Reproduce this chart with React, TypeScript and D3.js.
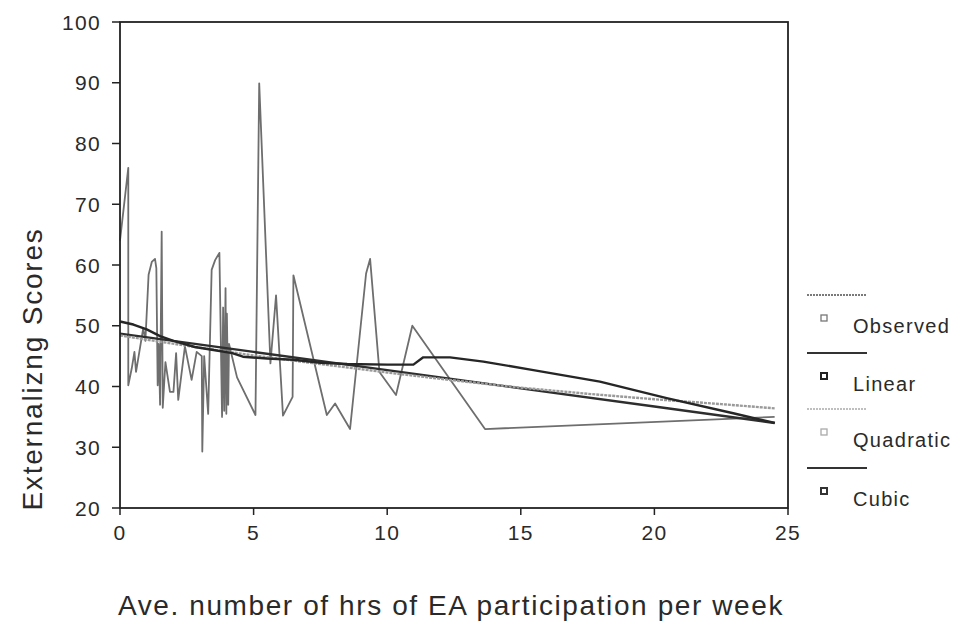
import React from "react";
import * as d3 from "d3";

const xTicks = [0, 5, 10, 15, 20, 25];
const yTicks = [20, 30, 40, 50, 60, 70, 80, 90, 100];

const observedX = [0.0, 0.31, 0.31, 0.44, 0.54, 0.6, 0.87, 0.95, 1.07, 1.19, 1.31, 1.36, 1.41, 1.45, 1.5, 1.56, 1.6, 1.7, 1.87, 2.0, 2.1, 2.18, 2.43, 2.68, 2.87, 3.06, 3.08, 3.15, 3.3, 3.43, 3.56, 3.72, 3.82, 3.86, 3.9, 3.95, 3.98, 4.0, 4.05, 4.08, 4.38, 5.07, 5.21, 5.63, 5.84, 6.1, 6.46, 6.49, 7.74, 8.05, 8.61, 9.21, 9.36, 9.71, 10.33, 10.94, 13.66, 24.5];
const observedY = [64.0, 76.0, 40.2, 43.0, 45.7, 42.4, 49.6, 47.5, 58.4, 60.5, 61.0, 59.5, 40.2, 47.0, 37.0, 65.5, 36.5, 44.0, 39.1, 39.1, 45.5, 37.8, 46.6, 41.1, 45.7, 45.0, 29.3, 45.0, 35.5, 59.2, 60.8, 62.0, 35.0, 53.0, 36.0, 56.2, 35.5, 52.0, 37.0, 47.0, 41.5, 35.3, 89.9, 43.8, 55.0, 35.2, 38.3, 58.3, 35.3, 37.2, 33.0, 58.6, 61.0, 42.4, 38.6, 50.0, 33.0, 35.0];

const linearX = [0, 5, 10, 15, 20, 24.5];
const linearY = [48.7, 45.7, 42.7, 39.7, 36.7, 34.0];

const quadX = [0, 2.5, 5, 7.5, 10, 12.5, 15, 17.5, 20, 22.5, 24.5];
const quadY = [48.4, 46.7, 45.1, 43.7, 42.3, 41.0, 39.8, 38.8, 37.9, 37.1, 36.4];

const cubicX = [0, 0.5, 1.0, 1.5, 2.0, 2.8, 3.5, 4.2, 4.6, 5.5, 6.5, 7.5, 8.5, 10.0, 10.98, 11.35, 12.35, 13.6, 15.47, 17.96, 20.46, 22.95, 24.51];
const cubicY = [50.7, 50.2, 49.4, 48.3, 47.5, 46.5, 46.0, 45.5, 44.9, 44.6, 44.4, 43.9, 43.7, 43.6, 43.6, 44.8, 44.8, 44.1, 42.7, 40.8, 38.1, 35.6, 34.0];

const legendLabels = ["Observed", "Linear", "Quadratic", "Cubic"];

const FONT = "'Liberation Sans', Arial, sans-serif";

export default function App() {
  const W = 964;
  const H = 630;
  const x = d3.scaleLinear().domain([0, 25]).range([120, 788]);
  const y = d3.scaleLinear().domain([20, 100]).range([508, 22]);

  const mk = (xs: number[], ys: number[]) =>
    d3
      .line<number>()
      .x((_, i) => x(xs[i]))
      .y((d) => y(d))(ys) || "";

  const styles = [
    { stroke: "#6e6e6e", width: 1.8, dash: "" },
    { stroke: "#2e2e2e", width: 2.4, dash: "" },
    { stroke: "#9a9a9a", width: 2.4, dash: "3 1" },
    { stroke: "#262626", width: 2.4, dash: "" },
  ];

  const series = [
    { xs: observedX, ys: observedY },
    { xs: linearX, ys: linearY },
    { xs: quadX, ys: quadY },
    { xs: cubicX, ys: cubicY },
  ];

  const legendTop = [295, 353, 409, 468];
  const legendSample = [
    { stroke: "#7a7a7a", width: 1.8, dash: "2 1" },
    { stroke: "#333", width: 2, dash: "" },
    { stroke: "#aaa", width: 1.5, dash: "2 1" },
    { stroke: "#333", width: 2, dash: "" },
  ];
  const markerStroke = ["#777", "#222", "#aaa", "#333"];
  const markerWidth = [1.3, 2, 1.3, 2];

  return (
    <svg
      width={W}
      height={H}
      style={{ position: "absolute", left: 0, top: 0, background: "#fff" }}
      fontFamily={FONT}
    >
      <rect x={0} y={0} width={W} height={H} fill="#fff" />
      {series.map((s, i) => (
        <path
          key={i}
          d={mk(s.xs, s.ys)}
          fill="none"
          stroke={styles[i].stroke}
          strokeWidth={styles[i].width}
          strokeDasharray={styles[i].dash || undefined}
          strokeLinejoin="round"
        />
      ))}
      <rect
        x={x(0)}
        y={y(100)}
        width={x(25) - x(0)}
        height={y(20) - y(100)}
        fill="none"
        stroke="#222"
        strokeWidth={1.8}
      />
      {yTicks.map((t) => (
        <g key={t}>
          <line x1={x(0) - 8} x2={x(0)} y1={y(t)} y2={y(t)} stroke="#222" strokeWidth={1.5} />
          <text
            x={101}
            y={y(t)}
            dy="0.36em"
            textAnchor="end"
            fontSize={21}
            fill="#2a2a2a"
            letterSpacing={1.3}
          >
            {t}
          </text>
        </g>
      ))}
      {xTicks.map((t) => (
        <g key={t}>
          <line x1={x(t)} x2={x(t)} y1={y(20)} y2={y(20) + 7} stroke="#222" strokeWidth={1.5} />
          <text
            x={x(t)}
            y={540}
            textAnchor="middle"
            fontSize={21}
            fill="#2a2a2a"
            letterSpacing={1.3}
          >
            {t}
          </text>
        </g>
      ))}
      <text
        transform="translate(42,369) rotate(-90)"
        textAnchor="middle"
        fontSize={28}
        fill="#2a2a2a"
        letterSpacing={1.8}
      >
        Externalizng Scores
      </text>
      <text
        x={451}
        y={615}
        textAnchor="middle"
        fontSize={28}
        fill="#2a2a2a"
        letterSpacing={1.6}
      >
        Ave. number of hrs of EA participation per week
      </text>
      {legendLabels.map((lab, i) => (
        <g key={lab}>
          <line
            x1={807}
            x2={867}
            y1={legendTop[i]}
            y2={legendTop[i]}
            stroke={legendSample[i].stroke}
            strokeWidth={legendSample[i].width}
            strokeDasharray={legendSample[i].dash || undefined}
          />
          <rect
            x={821}
            y={legendTop[i] + 20}
            width={6}
            height={6}
            fill="#fff"
            stroke={markerStroke[i]}
            strokeWidth={markerWidth[i]}
          />
          <text x={853} y={legendTop[i] + 38} fontSize={20} fill="#2a2a2a" letterSpacing={1.3}>
            {lab}
          </text>
        </g>
      ))}
    </svg>
  );
}
